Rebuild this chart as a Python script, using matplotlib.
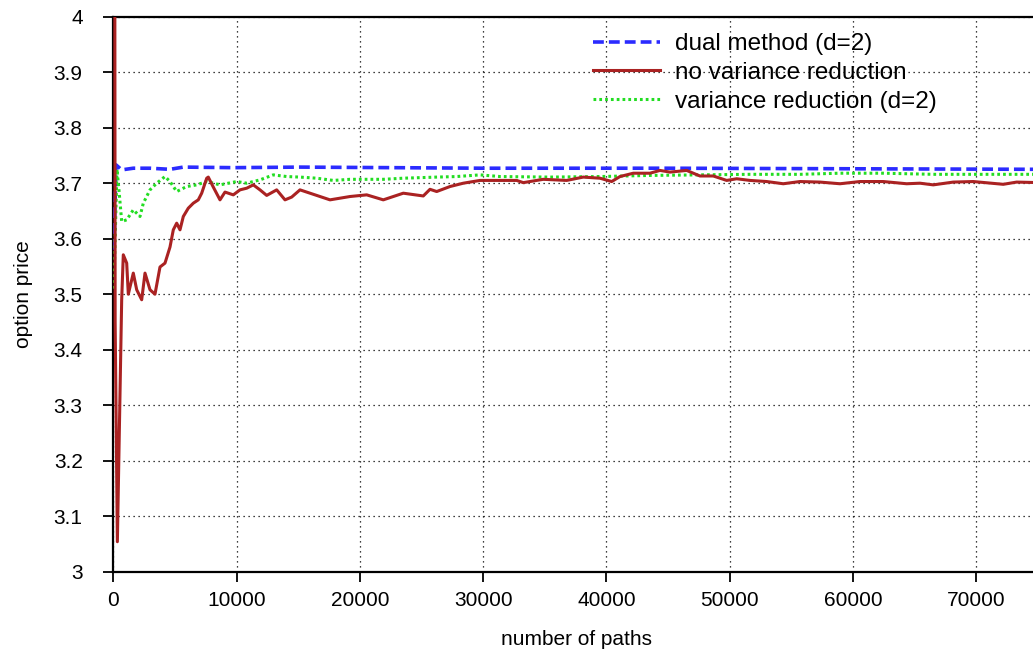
import matplotlib
matplotlib.use("Agg")
import matplotlib.pyplot as plt

plt.rcParams['font.family'] = ['Liberation Sans', 'DejaVu Sans']

# number of paths vs. estimated option price
paths_dual = [50, 220, 680, 1622, 2977, 4599, 5678, 9733, 15143, 30000, 45000, 60000, 75200]
price_dual = [3.58, 3.733, 3.724, 3.727, 3.727, 3.725, 3.729, 3.728, 3.729, 3.727, 3.727, 3.726, 3.725]

paths_plain = [100, 150, 330, 680, 811, 1087, 1217, 1622, 1898, 2303, 2571, 2977, 3382, 3787,
               4193, 4599, 4867, 5142, 5410, 5678, 6083, 6489, 6894, 7170, 7576, 7705, 8111,
               8654, 9060, 9733, 10277, 10820, 11355, 11898, 12442, 13253, 13926, 14470, 15143,
               15955, 17577, 19199, 20553, 21900, 23522, 25144, 25687, 26231, 27310, 28388,
               29743, 31098, 32720, 33256, 34878, 36774, 38121, 39476, 40425, 41098, 42177,
               43530, 44342, 45153, 46508, 47585, 48665, 49752, 50562, 51641, 52996, 54343,
               55698, 57321, 58943, 60565, 62455, 64352, 65430, 66510, 68132, 69754, 72187,
               73273, 75200]
price_plain = [4.6, 3.45, 3.054, 3.49, 3.571, 3.556, 3.50, 3.538, 3.508, 3.49, 3.538, 3.508, 3.50,
               3.549, 3.556, 3.585, 3.616, 3.628, 3.616, 3.640, 3.655, 3.664, 3.670, 3.682, 3.709,
               3.711, 3.693, 3.670, 3.684, 3.679, 3.688, 3.691, 3.697, 3.688, 3.678, 3.688, 3.670,
               3.675, 3.688, 3.682, 3.670, 3.676, 3.679, 3.670, 3.682, 3.677, 3.689, 3.685, 3.694,
               3.700, 3.705, 3.705, 3.705, 3.701, 3.707, 3.705, 3.711, 3.709, 3.703, 3.712, 3.718,
               3.718, 3.723, 3.720, 3.723, 3.713, 3.713, 3.705, 3.708, 3.705, 3.703, 3.699, 3.703,
               3.702, 3.699, 3.703, 3.703, 3.699, 3.700, 3.697, 3.702, 3.703, 3.698, 3.702, 3.701]

paths_vr = [50, 150, 300, 450, 681, 1087, 1622, 2166, 2433, 2977, 3520, 4193, 4599, 5142, 5953,
            6764, 7576, 8654, 10009, 10820, 11898, 12977, 14064, 15143, 16497, 17844, 19199,
            21900, 23522, 26231, 27850, 29743, 31367, 35419, 39476, 43530, 47585, 51641, 55698,
            58943, 62455, 66510, 70000, 75200]
price_vr = [3.51, 3.60, 3.725, 3.69, 3.631, 3.634, 3.652, 3.640, 3.664, 3.688, 3.700, 3.712, 3.703,
            3.685, 3.694, 3.697, 3.703, 3.697, 3.703, 3.700, 3.706, 3.715, 3.712, 3.711, 3.709,
            3.705, 3.707, 3.707, 3.709, 3.711, 3.712, 3.715, 3.712, 3.711, 3.712, 3.714, 3.715,
            3.716, 3.716, 3.718, 3.718, 3.716, 3.716, 3.716]

x_ticks = [0, 10000, 20000, 30000, 40000, 50000, 60000, 70000]
y_ticks = [3, 3.1, 3.2, 3.3, 3.4, 3.5, 3.6, 3.7, 3.8, 3.9, 4]
y_tick_labels = ["3", "3.1", "3.2", "3.3", "3.4", "3.5", "3.6", "3.7", "3.8", "3.9", "4"]

W, H = 1033, 657
fig = plt.figure(figsize=(W / 100, H / 100), dpi=100)
x_max = 75200
left_px, top_px, bottom_px = 113.3, 16.7, 571.7
px_per_path = 863.0 / 70000
ax_w_px = x_max * px_per_path
ax = fig.add_axes([left_px / W, 1 - bottom_px / H,
                   ax_w_px / W, (bottom_px - top_px) / H])

ax.plot(paths_dual, price_dual, color='#2b2bff', lw=2.6, ls=(0, (3.0, 1.4)),
        label='dual method (d=2)', zorder=3)
ax.plot(paths_plain, price_plain, color='#aa2222', lw=2.2,
        label='no variance reduction', zorder=4)
ax.plot(paths_vr, price_vr, color='#22dd22', lw=2.2, ls=(0, (0.9, 1.0)),
        label='variance reduction (d=2)', zorder=3)

ax.set_xlim(0, x_max)
ax.set_ylim(3, 4)
ax.set_xticks(x_ticks)
ax.set_xticklabels([str(t) for t in x_ticks])
ax.set_yticks(y_ticks)
ax.set_yticklabels(y_tick_labels)

ax.grid(True, color='black', ls=(0, (1, 3)), lw=0.9)
ax.set_axisbelow(True)
ax.tick_params(direction='out', length=7, width=1.3, labelsize=15)
ax.tick_params(axis='y', pad=15)
ax.tick_params(axis='x', pad=7)
for side in ['left', 'bottom', 'top']:
    ax.spines[side].set_linewidth(1.6)
ax.spines['right'].set_visible(False)

ax.set_xlabel('number of paths', fontsize=15, labelpad=14)
ax.set_ylabel('option price', fontsize=15, labelpad=15)

leg = ax.legend(loc='upper left', bbox_to_anchor=((583.3 - left_px) / ax_w_px, 0.988),
                frameon=False, fontsize=17.5, handlelength=2.75, handletextpad=0.62,
                labelspacing=0.28, borderaxespad=0)

fig.savefig('out.png', dpi=100)
